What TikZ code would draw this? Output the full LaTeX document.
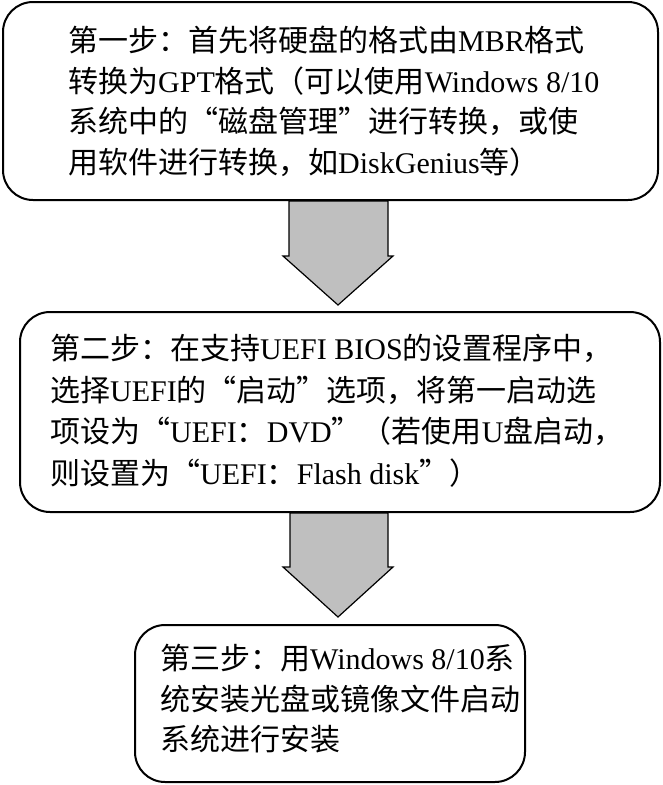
\documentclass[tikz,border=0pt]{standalone}
\usepackage{fontspec}
\setmainfont{Liberation Serif}
\newfontfamily\cjk{Noto Sans CJK SC}
\newcommand{\C}[1]{{\cjk #1}}
\begin{document}
\begin{tikzpicture}[x=1pt,y=-1pt,
  stepbox/.style={draw,line width=2pt,rounded corners=30pt},
  txt/.style={align=left,anchor=north west,inner sep=0pt,font=\fontsize{30}{40.5}\selectfont},
  blockarrow/.style={fill=black!25,draw=black,line width=1.2pt}]
\useasboundingbox (0,0) rectangle (663,785);
\draw[stepbox] (3,2) rectangle (658,200);
\node[txt] (t1) at (68,26) {\C{第一步：首先将硬盘的格式由}MBR\C{格式}\\
\C{转换为}GPT\C{格式（可以使用}Windows 8/10\\
\C{系统中的“磁盘管理”进行转换，或使}\\
\C{用软件进行转换，如}DiskGenius\C{等）}};
\draw[stepbox] (20,312) rectangle (660,512);
\node[txt,font=\fontsize{30}{41.5}\selectfont] (t2) at (50,334) {\C{第二步：在支持}UEFI BIOS\C{的设置程序中，}\\
\C{选择}UEFI\C{的“启动”选项，将第一启动选}\\
\C{项设为“}UEFI\C{：}DVD\C{”（若使用}U\C{盘启动，}\\
\C{则设置为“}UEFI\C{：}Flash disk\C{”）}};
\draw[stepbox] (135,625) rectangle (525,782);
\node[txt] (t3) at (160,644) {\C{第三步：用}Windows 8/10\C{系}\\
\C{统安装光盘或镜像文件启动}\\
\C{系统进行安装}};
\draw[blockarrow] (289,201) -- (388,201) -- (388,256) -- (393,256) -- (338,305) -- (283,256) -- (289,256) -- cycle;
\draw[blockarrow] (290,513) -- (388,513) -- (388,567) -- (393,567) -- (338,617) -- (283,567) -- (290,567) -- cycle;
\end{tikzpicture}
\end{document}
